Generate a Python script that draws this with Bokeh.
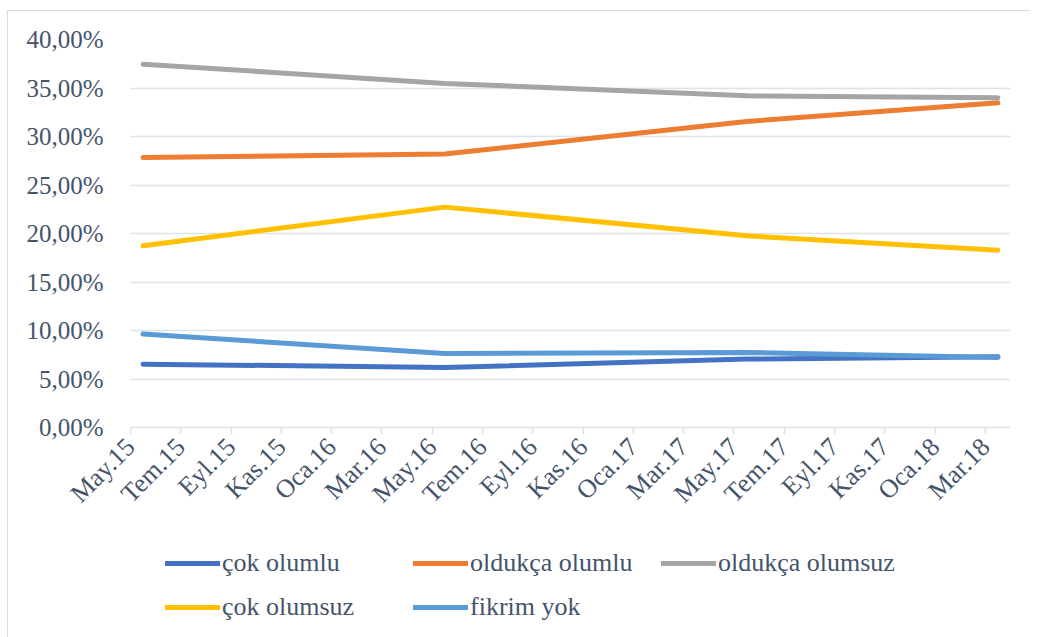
from bokeh.plotting import figure
from bokeh.models import Range1d, FixedTicker, Legend, LegendItem, CustomJSTickFormatter
from bokeh.layouts import column
from bokeh.embed import file_html
from bokeh.resources import INLINE
import math

# ---- data ----
tick_labels = ["May.15", "Tem.15", "Eyl.15", "Kas.15", "Oca.16", "Mar.16",
               "May.16", "Tem.16", "Eyl.16", "Kas.16", "Oca.17", "Mar.17",
               "May.17", "Tem.17", "Eyl.17", "Kas.17", "Oca.18", "Mar.18"]
survey_months = ["May.15", "May.16", "May.17", "Mar.18"]
cok_olumlu = [0.0653, 0.0619, 0.0705, 0.0729]
oldukca_olumlu = [0.2784, 0.2820, 0.3155, 0.3347]
oldukca_olumsuz = [0.3746, 0.3547, 0.3420, 0.3399]
cok_olumsuz = [0.1873, 0.2272, 0.1976, 0.1828]
fikrim_yok = [0.0963, 0.0763, 0.0773, 0.0722]
series_names = ["çok olumlu", "oldukça olumlu", "oldukça olumsuz", "çok olumsuz", "fikrim yok"]
y_ticks = [0, 0.05, 0.10, 0.15, 0.20, 0.25, 0.30, 0.35, 0.40]

colors = ["#4472C4", "#ED7D31", "#A5A5A5", "#FFC000", "#5B9BD5"]
series = [cok_olumlu, oldukca_olumlu, oldukca_olumsuz, cok_olumsuz, fikrim_yok]

# month-slot positions: each tick is 2 months, points in the middle of a month slot
xs = [2 * tick_labels.index(m) + 0.5 for m in survey_months]
n_months = 2 * (len(tick_labels) - 1) + 1

TEXT = "#44546a"
FONT = "Liberation Serif"
GRID = "#dde3ea"
TOTAL_W = 1022

p = figure(output_backend="svg", toolbar_location=None,
           x_range=Range1d(0, n_months), y_range=Range1d(0, 0.40),
           min_border_left=122, min_border_top=28, min_border_right=TOTAL_W - 122 - 880,
           min_border_bottom=110)
p.frame_width = 880
p.frame_height = 388
p.outline_line_color = None
p.background_fill_color = "white"
p.border_fill_color = "white"

# y axis
p.yaxis.ticker = FixedTicker(ticks=y_ticks)
p.yaxis.formatter = CustomJSTickFormatter(code="return (tick*100).toFixed(2).replace('.', ',') + '%';")
p.yaxis.axis_line_color = None
p.yaxis.major_tick_line_color = None
p.yaxis.minor_tick_line_color = None
p.yaxis.major_label_standoff = 21
p.yaxis.major_label_text_font = FONT
p.yaxis.major_label_text_font_size = "25px"
p.yaxis.major_label_text_color = TEXT

p.ygrid.ticker = FixedTicker(ticks=y_ticks)
p.ygrid.grid_line_color = GRID
p.ygrid.grid_line_width = 1.5
p.xgrid.grid_line_color = None

# x axis
p.xaxis.ticker = FixedTicker(ticks=[2 * i for i in range(len(tick_labels))])
p.xaxis.major_label_overrides = {2 * i: t for i, t in enumerate(tick_labels)}
p.xaxis.major_label_orientation = math.pi / 4
p.xaxis.axis_line_color = GRID
p.xaxis.axis_line_width = 1.5
p.xaxis.major_tick_line_color = GRID
p.xaxis.major_tick_line_width = 1.5
p.xaxis.major_tick_in = 0
p.xaxis.major_tick_out = 7
p.xaxis.minor_tick_line_color = None
p.xaxis.major_label_standoff = 8
p.xaxis.major_label_text_font = FONT
p.xaxis.major_label_text_font_size = "26px"
p.xaxis.major_label_text_color = TEXT

for ys, c in zip(series, colors):
    p.line(xs, ys, line_color=c, line_width=5, line_cap="round", line_join="round")

# legend strip below the chart (its frame is aligned with the chart's frame)
leg = figure(output_backend="svg", toolbar_location=None, width=TOTAL_W, height=100,
             x_range=Range1d(0, 1), y_range=Range1d(0, 1),
             min_border_left=0, min_border_right=0, min_border_top=0, min_border_bottom=0)
leg.axis.visible = False
leg.grid.visible = False
leg.outline_line_color = None
leg.border_fill_color = "white"
nan = float("nan")
leg_renderers = [leg.line([nan], [nan], line_color=c, line_width=5, line_cap="round") for c in colors]
items = [LegendItem(label=n, renderers=[r]) for n, r in zip(series_names, leg_renderers)]
legend = Legend(items=items, ncols=3, orientation="horizontal",
                location=(35, 10),
                glyph_width=55, glyph_height=40, label_width=187, label_height=20,
                label_standoff=2, spacing=4, padding=0, margin=0,
                border_line_color=None, background_fill_alpha=0,
                label_text_font=FONT, label_text_font_size="26px", label_text_color=TEXT)
leg.add_layout(legend, "center")

layout = column(p, leg, spacing=0,
                styles={"border-left": "1px solid #d9d9d9", "border-top": "1px solid #d9d9d9",
                        "margin-left": "7px", "margin-top": "10px"})

open("out.html", "w").write(file_html(layout, INLINE))
